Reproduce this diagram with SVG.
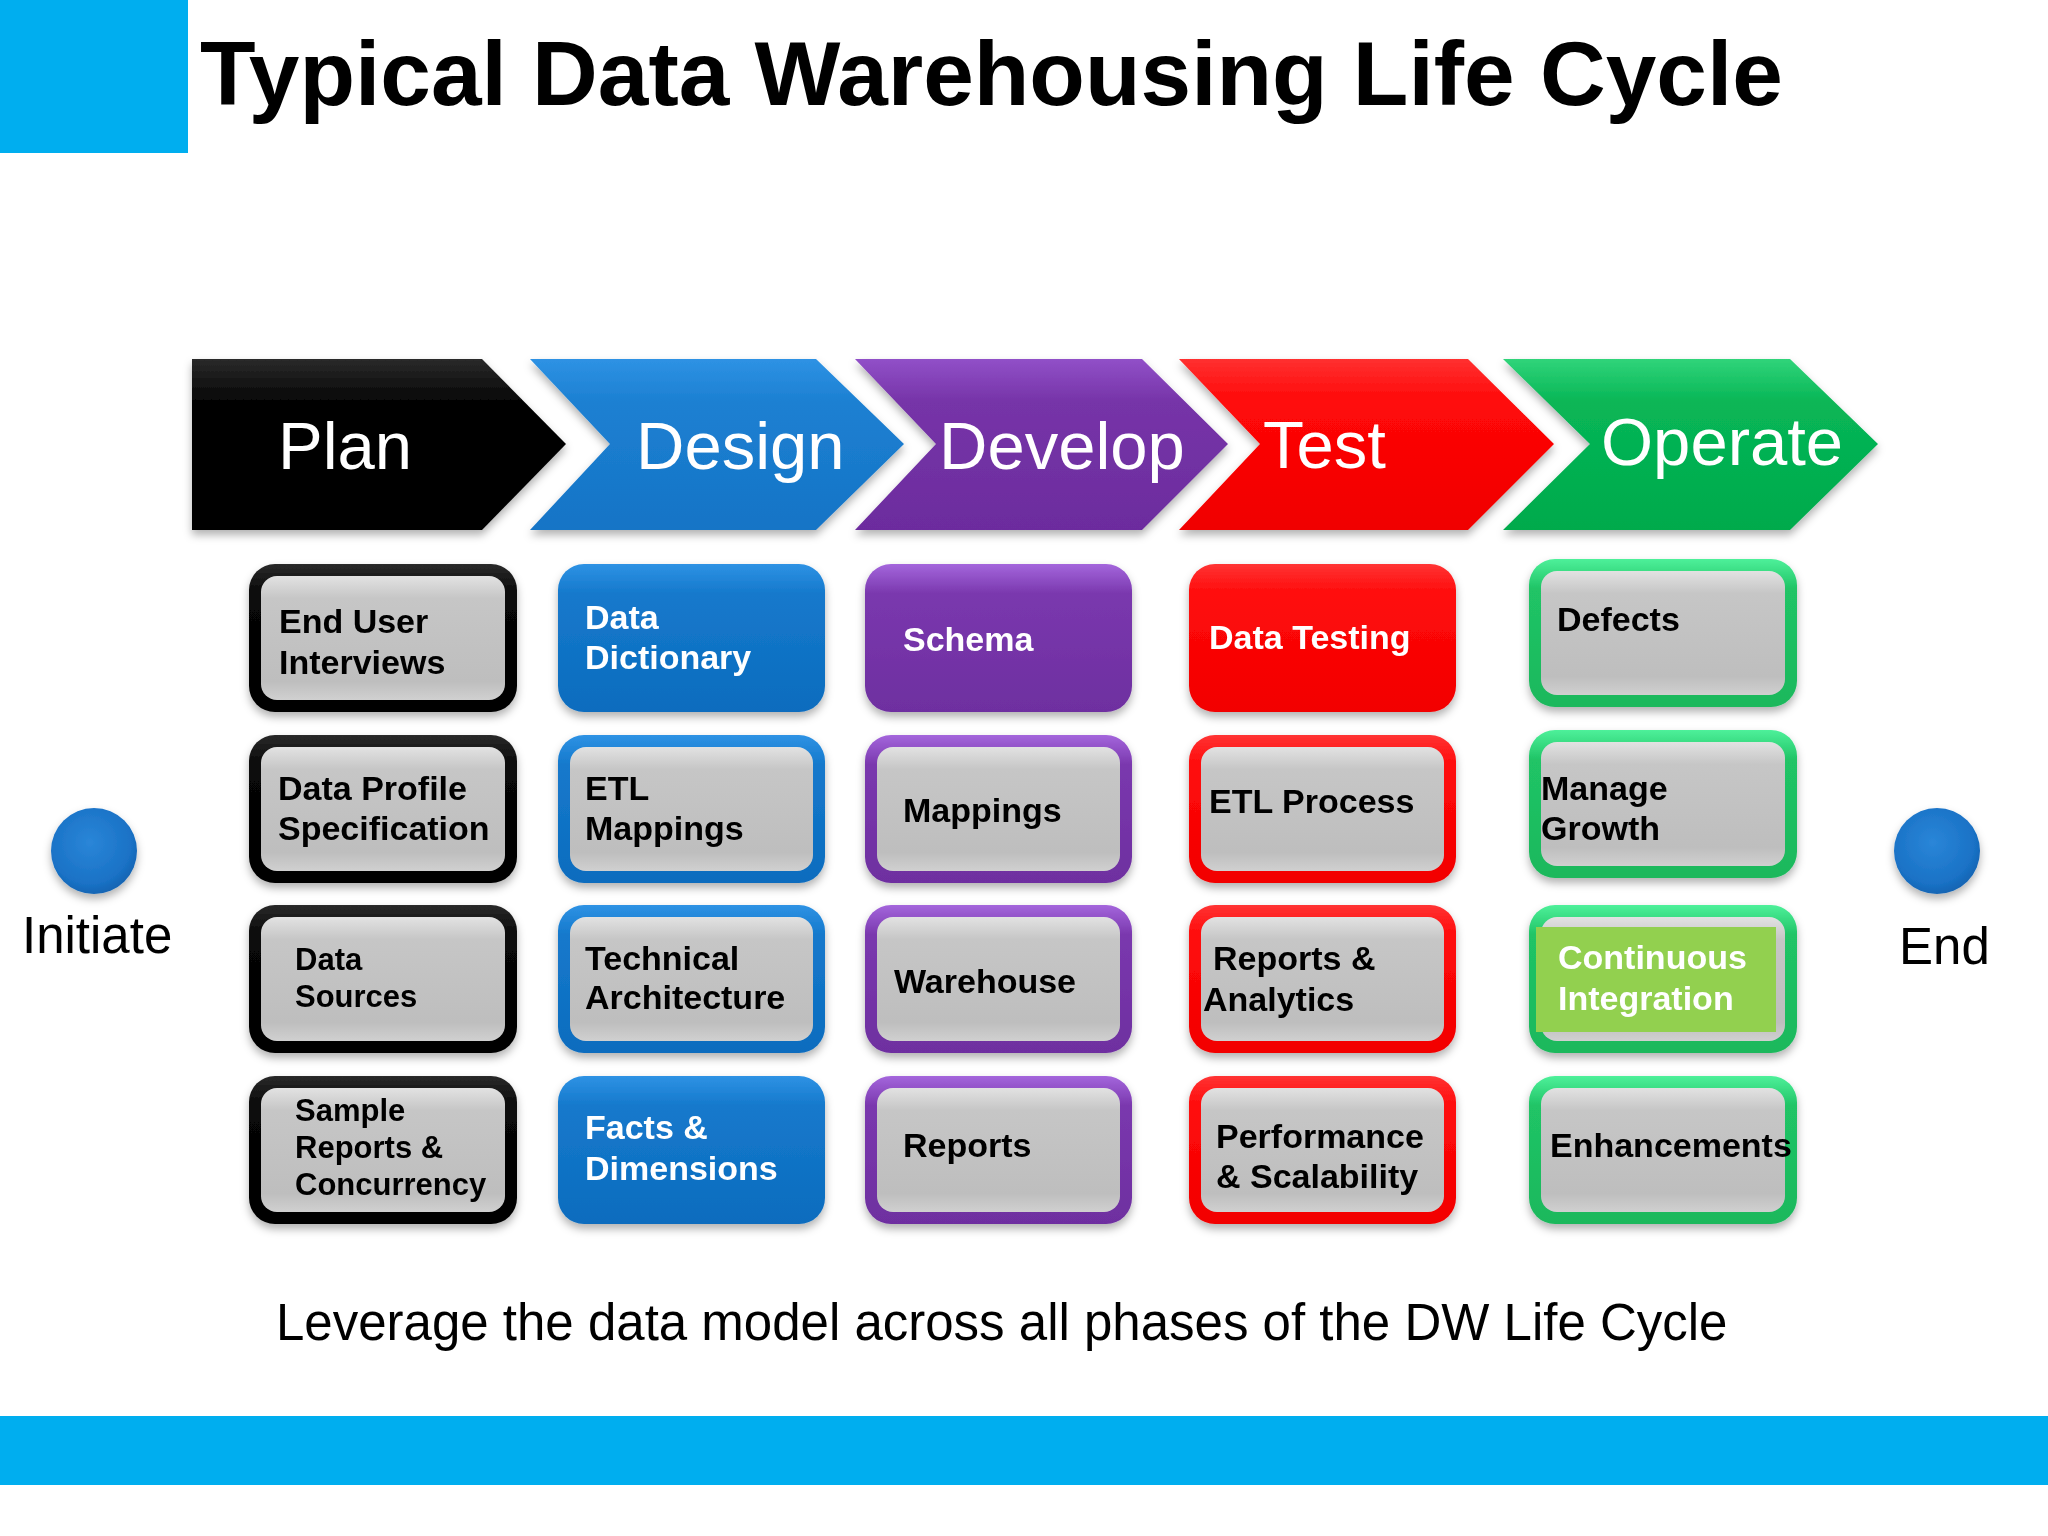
<svg xmlns="http://www.w3.org/2000/svg" width="2048" height="1536" viewBox="0 0 2048 1536">
<defs>
<style>
.title{font-family:"Liberation Sans",Arial,sans-serif;font-weight:bold;font-size:91px;fill:#000}
.phase{font-family:"Liberation Sans",Arial,sans-serif;font-size:67px;fill:#fff}
.lbl{font-family:"Liberation Sans",Arial,sans-serif;font-weight:bold;font-size:34px;fill:#000}
.sm{font-size:31px}
.w{fill:#fff}
.side{font-family:"Liberation Sans",Arial,sans-serif;font-size:51px;fill:#000}
</style>
<filter id="sh" x="-10%" y="-10%" width="120%" height="130%">
<feDropShadow dx="0" dy="5" stdDeviation="4" flood-color="#000" flood-opacity="0.3"/>
</filter>
<linearGradient id="gPlan" x1="0" y1="0" x2="0" y2="1"><stop offset="0" stop-color="#2a2a2a"/><stop offset="0.25" stop-color="#050505"/><stop offset="1" stop-color="#000"/></linearGradient>
<linearGradient id="gDesign" x1="0" y1="0" x2="0" y2="1"><stop offset="0" stop-color="#2e92e4"/><stop offset="0.25" stop-color="#1c80d2"/><stop offset="1" stop-color="#1674c6"/></linearGradient>
<linearGradient id="gDevelop" x1="0" y1="0" x2="0" y2="1"><stop offset="0" stop-color="#9150c8"/><stop offset="0.25" stop-color="#7634a8"/><stop offset="1" stop-color="#6c2c9e"/></linearGradient>
<linearGradient id="gTest" x1="0" y1="0" x2="0" y2="1"><stop offset="0" stop-color="#ff3030"/><stop offset="0.25" stop-color="#ff0808"/><stop offset="1" stop-color="#f00000"/></linearGradient>
<linearGradient id="gOperate" x1="0" y1="0" x2="0" y2="1"><stop offset="0" stop-color="#30d47a"/><stop offset="0.25" stop-color="#08b656"/><stop offset="1" stop-color="#00aa4c"/></linearGradient>
<linearGradient id="gGray" x1="0" y1="0" x2="0" y2="1"><stop offset="0" stop-color="#e2e2e2"/><stop offset="0.18" stop-color="#c6c6c6"/><stop offset="0.85" stop-color="#bebebe"/><stop offset="1" stop-color="#d0d0d0"/></linearGradient>
<linearGradient id="bBlack" x1="0" y1="0" x2="0" y2="1"><stop offset="0" stop-color="#2a2a2a"/><stop offset="0.2" stop-color="#080808"/><stop offset="1" stop-color="#000"/></linearGradient>
<linearGradient id="bBlue" x1="0" y1="0" x2="0" y2="1"><stop offset="0" stop-color="#2e92e4"/><stop offset="0.2" stop-color="#1579cc"/><stop offset="1" stop-color="#0c6cbe"/></linearGradient>
<linearGradient id="bPurple" x1="0" y1="0" x2="0" y2="1"><stop offset="0" stop-color="#a466dc"/><stop offset="0.2" stop-color="#7a38ae"/><stop offset="1" stop-color="#6e2fa0"/></linearGradient>
<linearGradient id="bRed" x1="0" y1="0" x2="0" y2="1"><stop offset="0" stop-color="#ff3434"/><stop offset="0.2" stop-color="#ff0a0a"/><stop offset="1" stop-color="#f20000"/></linearGradient>
<linearGradient id="bGreen" x1="0" y1="0" x2="0" y2="1"><stop offset="0" stop-color="#4ef09a"/><stop offset="0.2" stop-color="#20c466"/><stop offset="1" stop-color="#1cb85c"/></linearGradient>
<radialGradient id="gBall" cx="0.45" cy="0.4" r="0.6"><stop offset="0" stop-color="#2a86d8"/><stop offset="0.8" stop-color="#1a72c6"/><stop offset="1" stop-color="#1565b4"/></radialGradient>
</defs>
<rect width="2048" height="1536" fill="#fff"/>

<g id="header">
<rect x="0" y="0" width="188" height="153" fill="#00aeef"/>
<text class="title" x="200" y="105">Typical Data Warehousing Life Cycle</text>
</g>

<g id="phases">
<g id="phase-plan" filter="url(#sh)">
<polygon points="192,359 482,359 566,444 482,530 192,530" fill="url(#gPlan)"/>
<text class="phase" x="278" y="469">Plan</text>
</g>
<g id="phase-design" filter="url(#sh)">
<polygon points="530,359 816,359 904,444 816,530 530,530 610,444" fill="url(#gDesign)"/>
<text class="phase" x="636" y="469">Design</text>
</g>
<g id="phase-develop" filter="url(#sh)">
<polygon points="855,359 1142,359 1228,444 1142,530 855,530 936,444" fill="url(#gDevelop)"/>
<text class="phase" x="939" y="469">Develop</text>
</g>
<g id="phase-test" filter="url(#sh)">
<polygon points="1179,359 1468,359 1554,444 1468,530 1179,530 1260,444" fill="url(#gTest)"/>
<text class="phase" x="1263" y="468">Test</text>
</g>
<g id="phase-operate" filter="url(#sh)">
<polygon points="1503,359 1790,359 1878,444 1790,530 1503,530 1590,444" fill="url(#gOperate)"/>
<text class="phase" x="1601" y="465">Operate</text>
</g>
</g>

<g id="connectors"/>

<g id="start">
<circle cx="94" cy="851" r="43" fill="url(#gBall)" filter="url(#sh)"/>
<text class="side" x="22" y="953">Initiate</text>
</g>
<g id="end">
<circle cx="1937" cy="851" r="43" fill="url(#gBall)" filter="url(#sh)"/>
<text class="side" x="1899" y="964">End</text>
</g>

<!-- Plan column -->
<g id="end-user-interviews" filter="url(#sh)">
<rect x="249" y="564" width="268" height="148" rx="26" fill="url(#bBlack)"/>
<rect x="261" y="576" width="244" height="124" rx="16" fill="url(#gGray)"/>
<text class="lbl" x="279" y="633">End User</text>
<text class="lbl" x="279" y="674">Interviews</text>
</g>
<g id="data-profile-specification" filter="url(#sh)">
<rect x="249" y="735" width="268" height="148" rx="26" fill="url(#bBlack)"/>
<rect x="261" y="747" width="244" height="124" rx="16" fill="url(#gGray)"/>
<text class="lbl" x="278" y="800">Data Profile</text>
<text class="lbl" x="278" y="840">Specification</text>
</g>
<g id="data-sources" filter="url(#sh)">
<rect x="249" y="905" width="268" height="148" rx="26" fill="url(#bBlack)"/>
<rect x="261" y="917" width="244" height="124" rx="16" fill="url(#gGray)"/>
<text class="lbl sm" x="295" y="970">Data</text>
<text class="lbl sm" x="295" y="1007">Sources</text>
</g>
<g id="sample-reports-concurrency" filter="url(#sh)">
<rect x="249" y="1076" width="268" height="148" rx="26" fill="url(#bBlack)"/>
<rect x="261" y="1088" width="244" height="124" rx="16" fill="url(#gGray)"/>
<text class="lbl sm" x="295" y="1121">Sample</text>
<text class="lbl sm" x="295" y="1158">Reports &amp;</text>
<text class="lbl sm" x="295" y="1195">Concurrency</text>
</g>

<!-- Design column -->
<g id="data-dictionary" filter="url(#sh)">
<rect x="558" y="564" width="267" height="148" rx="26" fill="url(#bBlue)"/>
<text class="lbl w" x="585" y="629">Data</text>
<text class="lbl w" x="585" y="669">Dictionary</text>
</g>
<g id="etl-mappings" filter="url(#sh)">
<rect x="558" y="735" width="267" height="148" rx="26" fill="url(#bBlue)"/>
<rect x="570" y="747" width="243" height="124" rx="16" fill="url(#gGray)"/>
<text class="lbl" x="585" y="800">ETL</text>
<text class="lbl" x="585" y="840">Mappings</text>
</g>
<g id="technical-architecture" filter="url(#sh)">
<rect x="558" y="905" width="267" height="148" rx="26" fill="url(#bBlue)"/>
<rect x="570" y="917" width="243" height="124" rx="16" fill="url(#gGray)"/>
<text class="lbl" x="585" y="970">Technical</text>
<text class="lbl" x="585" y="1009">Architecture</text>
</g>
<g id="facts-dimensions" filter="url(#sh)">
<rect x="558" y="1076" width="267" height="148" rx="26" fill="url(#bBlue)"/>
<text class="lbl w" x="585" y="1139">Facts &amp;</text>
<text class="lbl w" x="585" y="1180">Dimensions</text>
</g>

<!-- Develop column -->
<g id="schema" filter="url(#sh)">
<rect x="865" y="564" width="267" height="148" rx="26" fill="url(#bPurple)"/>
<text class="lbl w" x="903" y="651">Schema</text>
</g>
<g id="mappings" filter="url(#sh)">
<rect x="865" y="735" width="267" height="148" rx="26" fill="url(#bPurple)"/>
<rect x="877" y="747" width="243" height="124" rx="16" fill="url(#gGray)"/>
<text class="lbl" x="903" y="822">Mappings</text>
</g>
<g id="warehouse" filter="url(#sh)">
<rect x="865" y="905" width="267" height="148" rx="26" fill="url(#bPurple)"/>
<rect x="877" y="917" width="243" height="124" rx="16" fill="url(#gGray)"/>
<text class="lbl" x="894" y="993">Warehouse</text>
</g>
<g id="reports" filter="url(#sh)">
<rect x="865" y="1076" width="267" height="148" rx="26" fill="url(#bPurple)"/>
<rect x="877" y="1088" width="243" height="124" rx="16" fill="url(#gGray)"/>
<text class="lbl" x="903" y="1157">Reports</text>
</g>

<!-- Test column -->
<g id="data-testing" filter="url(#sh)">
<rect x="1189" y="564" width="267" height="148" rx="26" fill="url(#bRed)"/>
<text class="lbl w" x="1209" y="649">Data Testing</text>
</g>
<g id="etl-process" filter="url(#sh)">
<rect x="1189" y="735" width="267" height="148" rx="26" fill="url(#bRed)"/>
<rect x="1201" y="747" width="243" height="124" rx="16" fill="url(#gGray)"/>
<text class="lbl" x="1209" y="813">ETL Process</text>
</g>
<g id="reports-analytics" filter="url(#sh)">
<rect x="1189" y="905" width="267" height="148" rx="26" fill="url(#bRed)"/>
<rect x="1201" y="917" width="243" height="124" rx="16" fill="url(#gGray)"/>
<text class="lbl" x="1213" y="970">Reports &amp;</text>
<text class="lbl" x="1203" y="1011">Analytics</text>
</g>
<g id="performance-scalability" filter="url(#sh)">
<rect x="1189" y="1076" width="267" height="148" rx="26" fill="url(#bRed)"/>
<rect x="1201" y="1088" width="243" height="124" rx="16" fill="url(#gGray)"/>
<text class="lbl" x="1216" y="1148">Performance</text>
<text class="lbl" x="1216" y="1188">&amp; Scalability</text>
</g>

<!-- Operate column -->
<g id="defects" filter="url(#sh)">
<rect x="1529" y="559" width="268" height="148" rx="26" fill="url(#bGreen)"/>
<rect x="1541" y="571" width="244" height="124" rx="16" fill="url(#gGray)"/>
<text class="lbl" x="1557" y="631">Defects</text>
</g>
<g id="manage-growth" filter="url(#sh)">
<rect x="1529" y="730" width="268" height="148" rx="26" fill="url(#bGreen)"/>
<rect x="1541" y="742" width="244" height="124" rx="16" fill="url(#gGray)"/>
<text class="lbl" x="1541" y="800">Manage</text>
<text class="lbl" x="1541" y="840">Growth</text>
</g>
<g id="continuous-integration" filter="url(#sh)">
<rect x="1529" y="905" width="268" height="148" rx="26" fill="url(#bGreen)"/>
<rect x="1541" y="917" width="244" height="124" rx="16" fill="url(#gGray)"/>
<rect x="1536" y="927" width="240" height="105" fill="#92d050"/>
<text class="lbl w" x="1558" y="969">Continuous</text>
<text class="lbl w" x="1558" y="1010">Integration</text>
</g>
<g id="enhancements" filter="url(#sh)">
<rect x="1529" y="1076" width="268" height="148" rx="26" fill="url(#bGreen)"/>
<rect x="1541" y="1088" width="244" height="124" rx="16" fill="url(#gGray)"/>
<text class="lbl" x="1550" y="1157">Enhancements</text>
</g>

<g id="footer">
<text class="side" x="276" y="1340">Leverage the data model across all phases of the DW Life Cycle</text>
<rect x="0" y="1416" width="2048" height="69" fill="#00aeef"/>
</g>
</svg>
